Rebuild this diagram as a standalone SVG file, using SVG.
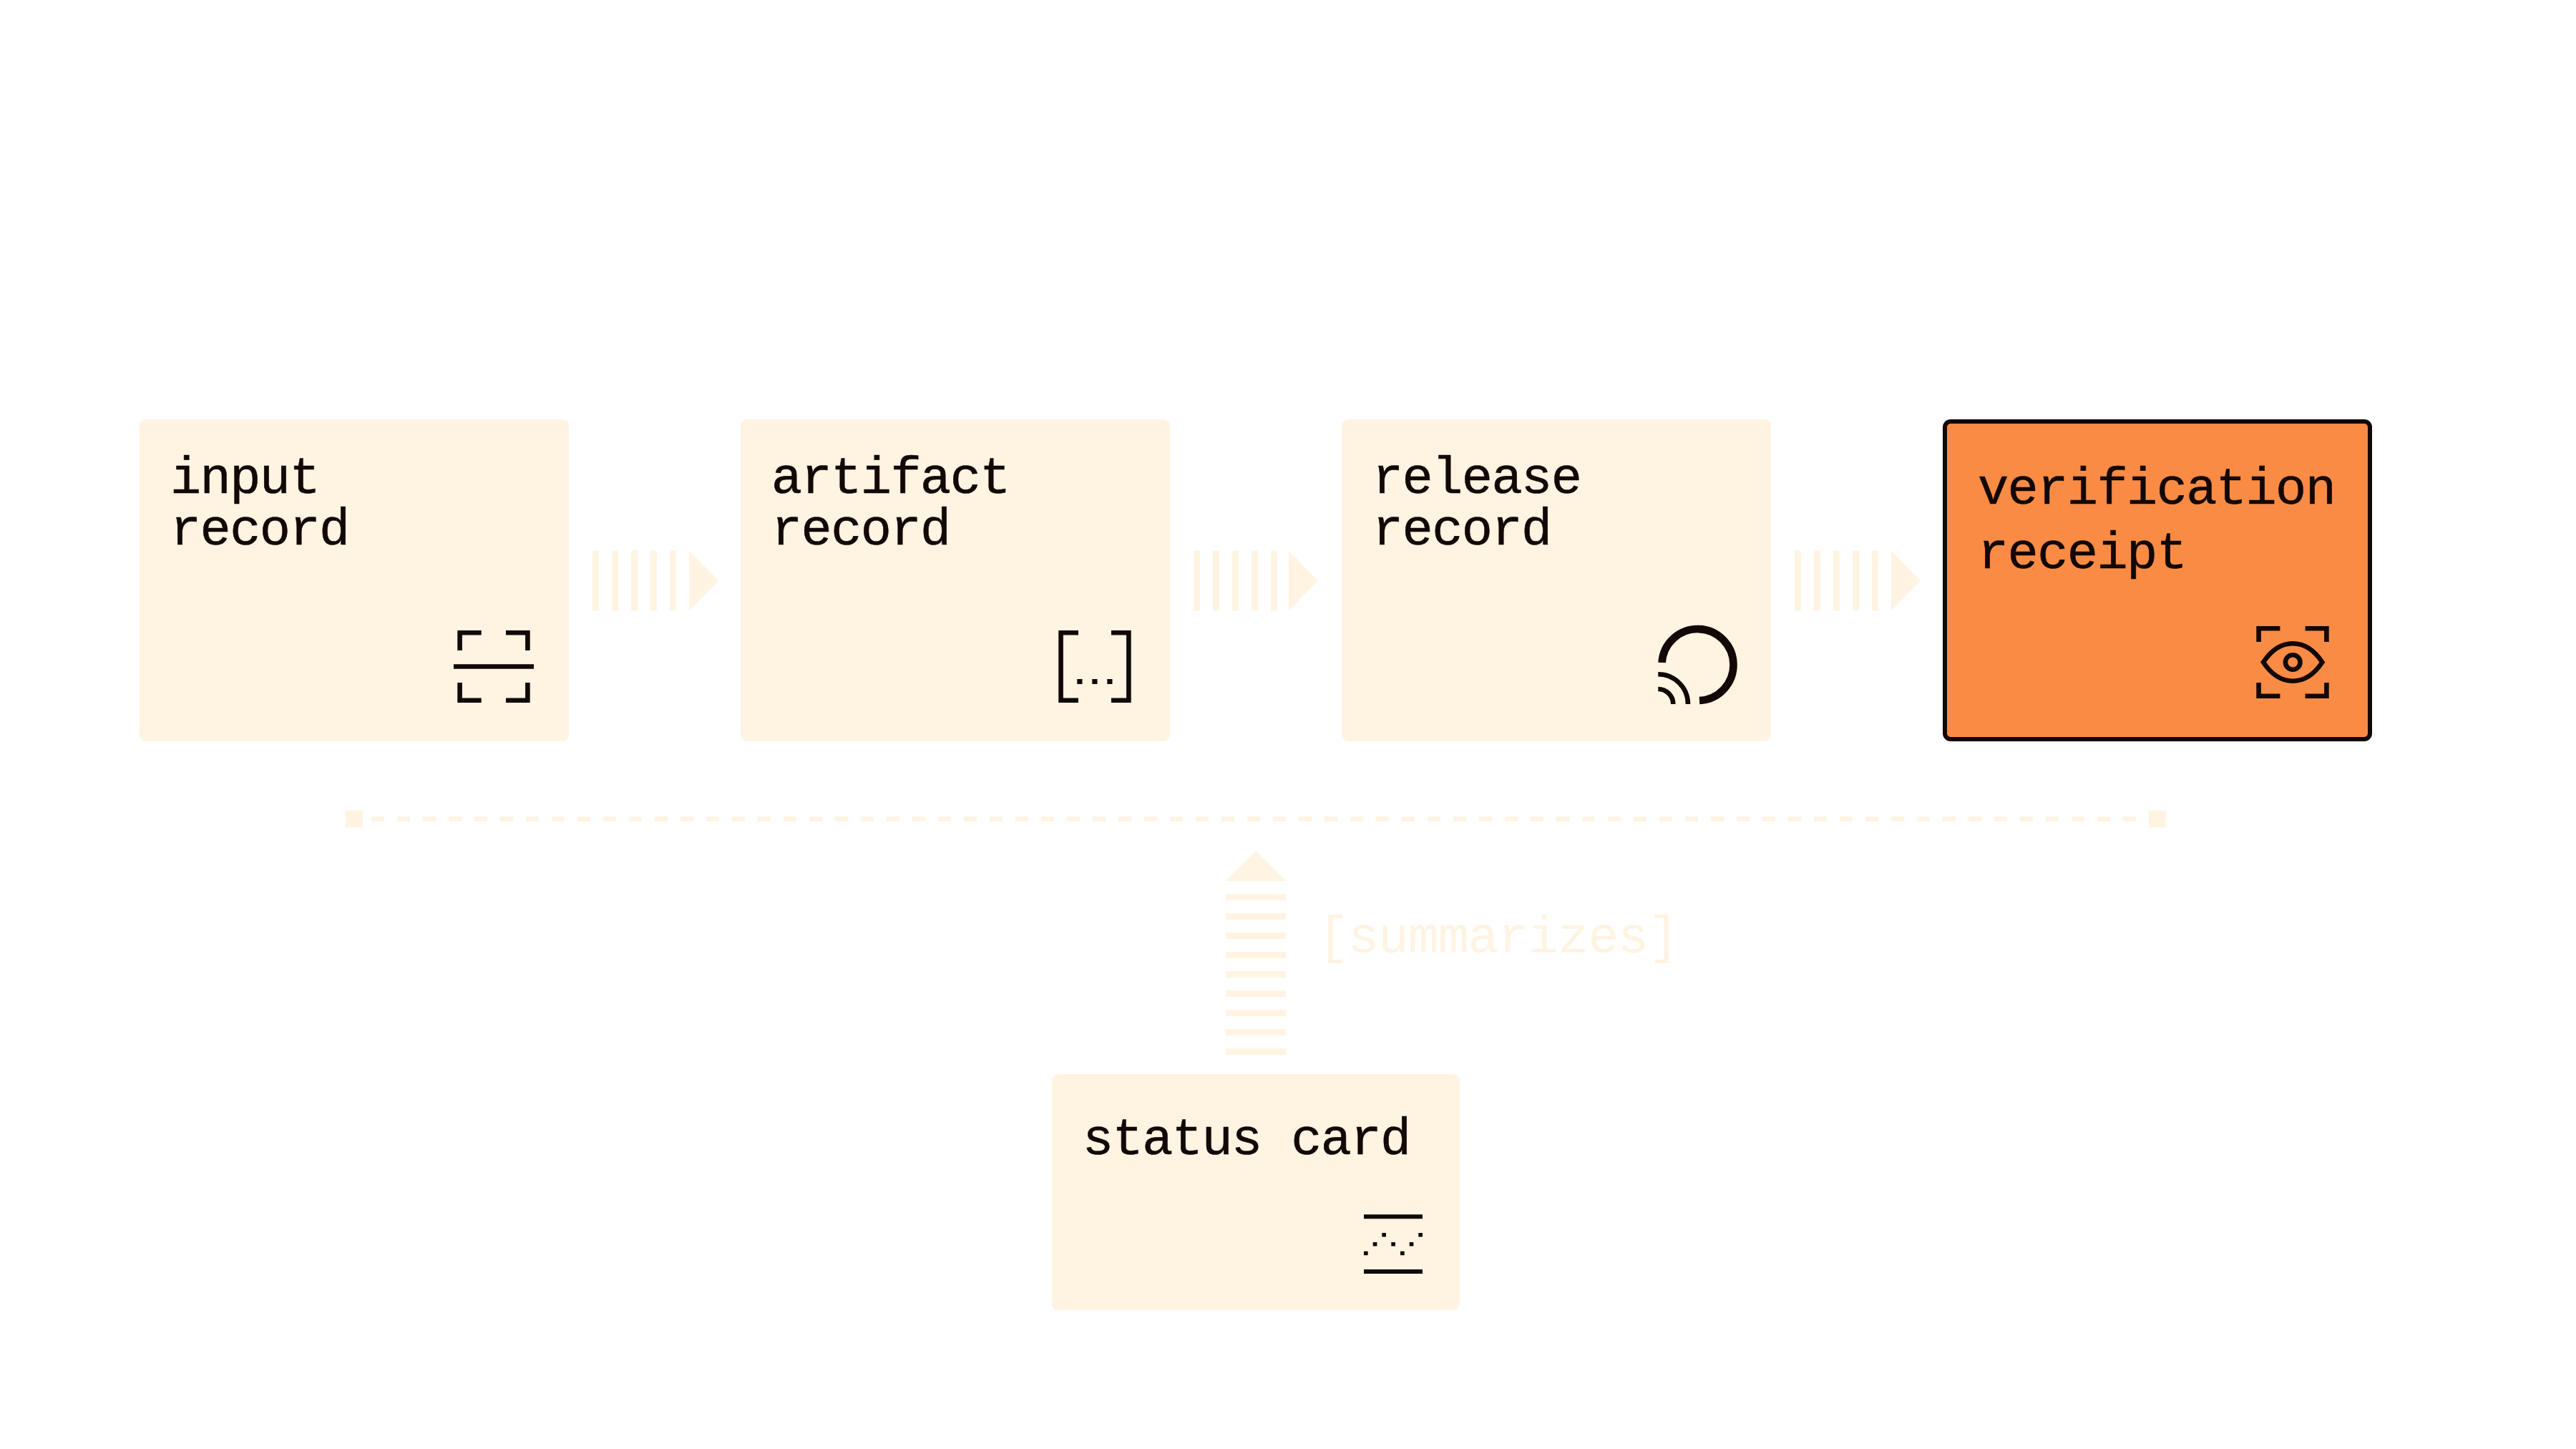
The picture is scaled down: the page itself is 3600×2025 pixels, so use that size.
<svg xmlns="http://www.w3.org/2000/svg" width="3600" height="2025" viewBox="0 0 3600 2025">
<style>
.card{fill:#FFF3E2}
.hot{fill:#F98B45;stroke:#120806;stroke-width:6}
.t{font-family:"Liberation Mono",monospace;font-size:72px;letter-spacing:-1.6px;fill:#120806;stroke:#120806;stroke-width:0.6px}
.ic{fill:none;stroke:#120806;stroke-width:6.6}
.icf{fill:#120806}
.soft{fill:#FFF3E2}
.lab{font-family:"Liberation Mono",monospace;font-size:72px;letter-spacing:-1.3px;fill:#FFF3E2}
</style>
<defs>
<g id="bars" class="soft">
<rect x="0" y="-42" width="9" height="84"/><rect x="27" y="-42" width="9" height="84"/><rect x="54" y="-42" width="9" height="84"/><rect x="81" y="-42" width="9" height="84"/><rect x="108" y="-42" width="9" height="84"/>
</g>
<polygon id="head" class="soft" points="135,-41.7 176.3,0 135,41.7"/>
</defs>
<g id="connectors">
<use href="#bars" x="828" y="811.5"/><use href="#head" x="828" y="811.5"/>
<use href="#bars" x="1668" y="811.5"/><use href="#head" x="1666" y="811.5"/>
<use href="#bars" x="2508" y="811.5"/><use href="#head" x="2508" y="811.5"/>
<g id="bracket" class="soft">
<rect x="483" y="1132.5" width="24" height="24"/>
<rect x="3003" y="1132.5" width="24" height="24"/>
<line x1="519" y1="1144.5" x2="2985" y2="1144.5" stroke="#FFF3E2" stroke-width="6.5" stroke-dasharray="18 18"/>
</g>
<g id="up-arrow" class="soft">
<polygon points="1755,1189 1797,1231.3 1713,1231.3"/>
<rect x="1713" y="1249.3" width="84" height="9"/><rect x="1713" y="1276.3" width="84" height="9"/><rect x="1713" y="1303.3" width="84" height="9"/><rect x="1713" y="1330.3" width="84" height="9"/><rect x="1713" y="1357.3" width="84" height="9"/><rect x="1713" y="1384.3" width="84" height="9"/><rect x="1713" y="1411.3" width="84" height="9"/><rect x="1713" y="1438.3" width="84" height="9"/><rect x="1713" y="1465.3" width="84" height="9"/>
</g>
<text class="lab" x="1842" y="1331">[summarizes]</text>
</g>
<g id="input-record">
<rect class="card" x="195" y="586" width="600" height="450" rx="9"/>
<text class="t"><tspan x="238" y="689">input</tspan><tspan x="238" y="761">record</tspan></text>
<path class="ic" d="M672.7 884.3H642.6V909M707 884.3H737.4V909M642.6 954V978.7H672.7M737.4 954V978.7H707M634 931.5H746"/>
</g>
<g id="artifact-record">
<rect class="card" x="1035" y="586" width="600" height="450" rx="9"/>
<text class="t"><tspan x="1078" y="689">artifact</tspan><tspan x="1078" y="761">record</tspan></text>
<path class="ic" d="M1507 884.3H1482.6V978.7H1507M1553 884.3H1577.4V978.7H1553"/>
<rect class="icf" x="1505.3" y="949" width="7.2" height="7"/><rect class="icf" x="1526.3" y="949" width="7.2" height="7"/><rect class="icf" x="1547.3" y="949" width="7.2" height="7"/>
</g>
<g id="release-record">
<rect class="card" x="1875" y="586" width="600" height="450" rx="9"/>
<text class="t"><tspan x="1918" y="689">release</tspan><tspan x="1918" y="761">record</tspan></text>
<path class="ic" style="stroke-width:10.6" d="M2322.6 926A50 50 0 1 1 2375 979"/>
<path class="ic" d="M2317.3 942.3A41.7 41.7 0 0 1 2359 984M2317.3 963A21 21 0 0 1 2338.3 984"/>
</g>
<g id="verification-receipt">
<rect class="hot" x="2718" y="589" width="594" height="444" rx="8"/>
<text class="t"><tspan x="2764" y="704">verification</tspan><tspan x="2764" y="794">receipt</tspan></text>
<path class="ic" d="M3186.4 878.3H3156.6V897M3221.6 878.3H3251.4V897M3156.6 954V972.7H3186.4M3251.4 954V972.7H3221.6"/>
<path class="ic" d="M3163 925.5C3174 909 3188 899.3 3204.2 899.3C3220.4 899.3 3234.4 909 3245.4 925.5C3234.4 942 3220.4 951.7 3204.2 951.7C3188 951.7 3174 942 3163 925.5Z"/>
<circle class="ic" cx="3204.2" cy="925.5" r="10.3"/>
</g>
<g id="status-card">
<rect class="card" x="1470" y="1501" width="570" height="330" rx="9"/>
<text class="t" x="1513" y="1613">status card</text>
<path class="ic" style="stroke-width:6" d="M1906 1700.2H1988M1906 1777H1988"/>
<g class="icf">
<rect x="1906" y="1748.7" width="5.7" height="5.5"/><rect x="1918.7" y="1736" width="5.7" height="5.5"/><rect x="1931.3" y="1723" width="5.7" height="5.5"/><rect x="1944.3" y="1736" width="5.7" height="5.5"/><rect x="1957" y="1748.7" width="5.7" height="5.5"/><rect x="1969.7" y="1736" width="5.7" height="5.5"/><rect x="1982.3" y="1723" width="5.7" height="5.5"/>
</g>
</g>
</svg>
